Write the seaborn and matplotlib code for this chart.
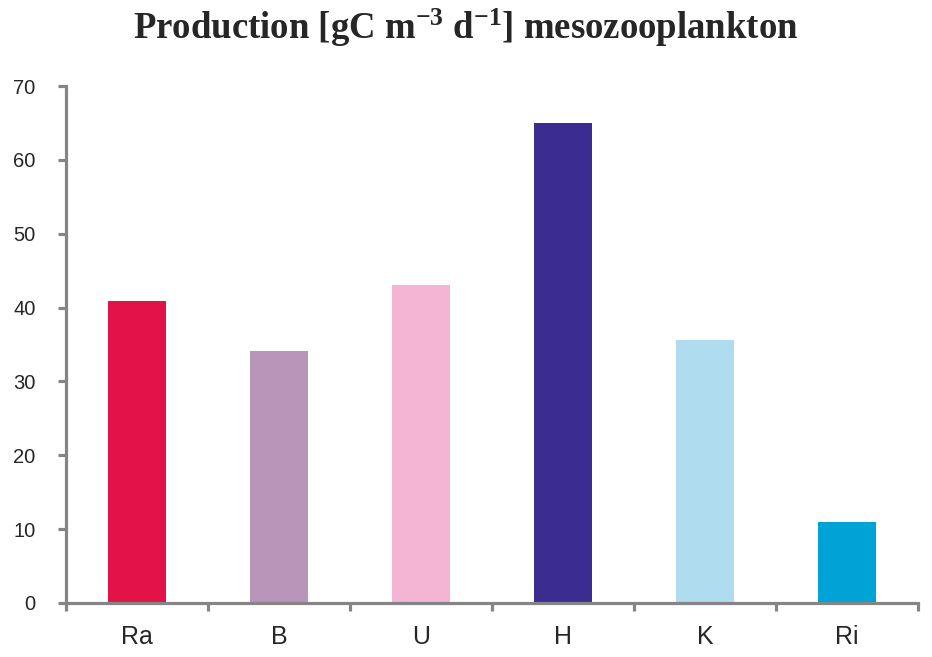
import matplotlib
matplotlib.use("Agg")
import matplotlib.pyplot as plt
import seaborn as sns
import pandas as pd
from matplotlib.ticker import FixedLocator

categories = ["Ra", "B", "U", "H", "K", "Ri"]
values = [40.9, 34.1, 43.0, 65.0, 35.6, 11.0]
colors = ["#E31248", "#B995B9", "#F4B4D4", "#3B2C91", "#B0DCF0", "#00A3D6"]
yticks = [0, 10, 20, 30, 40, 50, 60, 70]

sns.set_style("white")
plt.rcParams["font.family"] = ["Liberation Sans", "DejaVu Sans"]
plt.rcParams["mathtext.fontset"] = "custom"
plt.rcParams["mathtext.rm"] = "Liberation Serif:bold"
plt.rcParams["mathtext.it"] = "Liberation Serif:bold"
plt.rcParams["mathtext.bf"] = "Liberation Serif:bold"

df = pd.DataFrame({"cat": categories, "val": values})

fig = plt.figure(figsize=(9.32, 6.57), dpi=100)
ax = fig.add_axes([66/932, 1-603/657, (918-66)/932, (603-86)/657])
sns.barplot(data=df, x="cat", y="val", hue="cat", palette=colors, width=0.41,
            legend=False, ax=ax, saturation=1, linewidth=0)

ax.set_xlim(-0.5, len(categories) - 0.5)
ax.set_ylim(0, 70)
ax.set_yticks(yticks)
ax.set_xlabel("")
ax.set_ylabel("")

gray = "#858585"
for s in ["top", "right"]:
    ax.spines[s].set_visible(False)
for s in ["left", "bottom"]:
    ax.spines[s].set_color(gray)
    ax.spines[s].set_linewidth(2.3)

ax.tick_params(axis="y", which="major", length=6, width=2.3, color=gray,
               labelsize=14.5, pad=16, left=True, direction="out")
ax.tick_params(axis="x", which="major", length=0, labelsize=18, pad=16)
ax.xaxis.set_minor_locator(FixedLocator([i - 0.5 for i in range(len(categories) + 1)]))
ax.tick_params(axis="x", which="minor", length=6, width=2.3, color=gray,
               bottom=True, direction="out")

fig.text(0.5, 0.958,
         r"Production [gC m$^{\mathrm{-3}}$ d$^{\mathrm{-1}}$] mesozooplankton",
         ha="center", va="center", fontsize=26.5, fontweight="bold",
         family=["Liberation Serif", "DejaVu Serif"])

fig.savefig("out.png", dpi=100)
